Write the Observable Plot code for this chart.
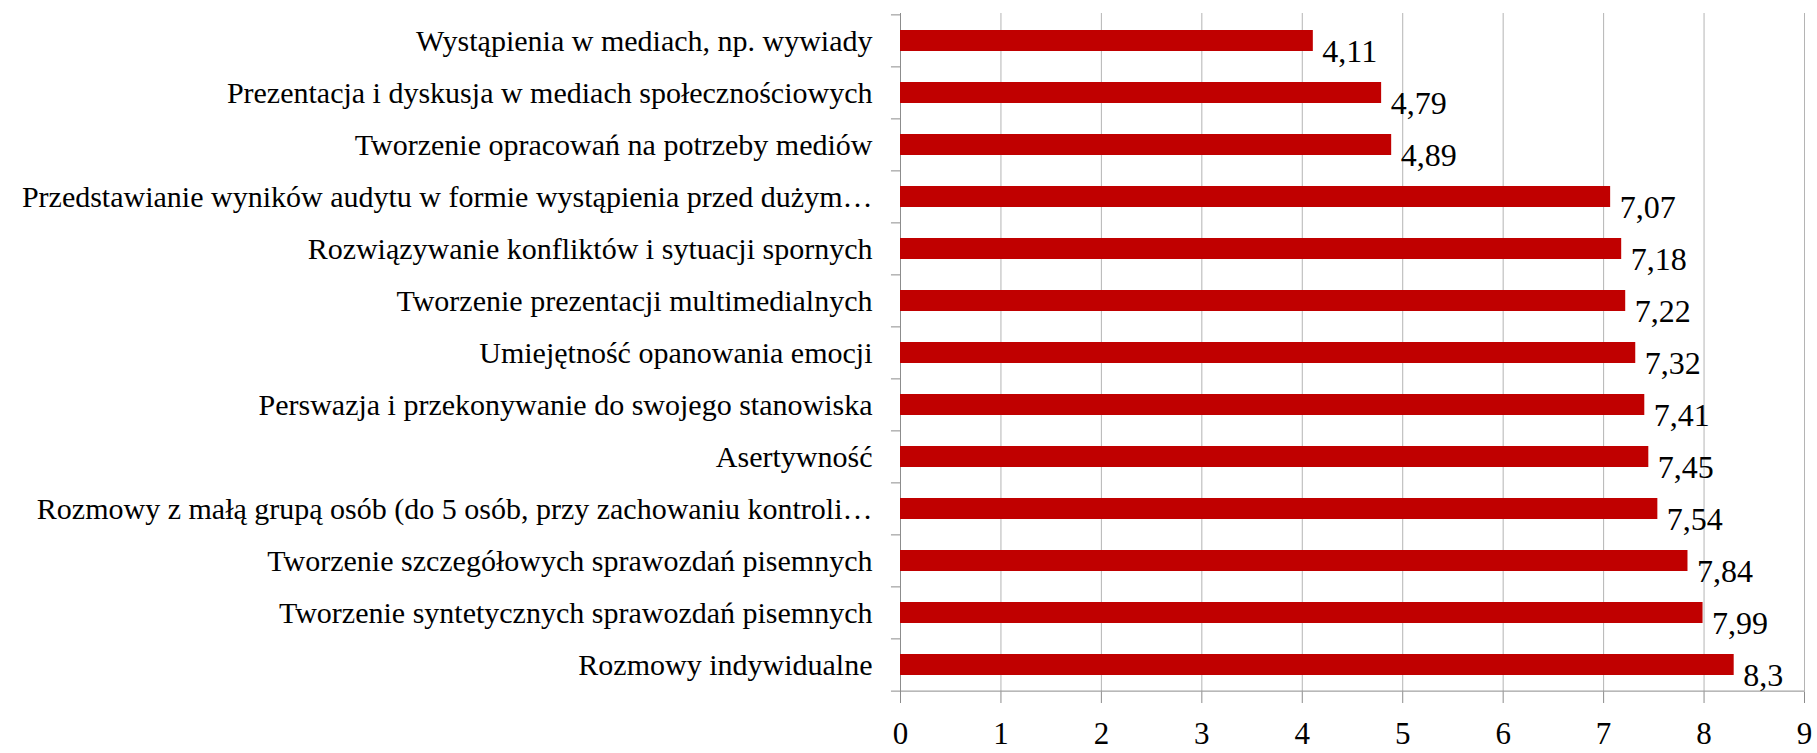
<!DOCTYPE html>
<html>
<head>
<meta charset="utf-8">
<script src="https://cdn.jsdelivr.net/npm/d3@7"></script>
<script src="https://cdn.jsdelivr.net/npm/@observablehq/plot@0.6"></script>
<style>
  html, body { margin: 0; padding: 0; background: #fff; }
  #chart svg { display: block; }
</style>
</head>
<body>
<div id="chart"></div>
<script>
const categories = [
  "Wystąpienia w mediach, np. wywiady",
  "Prezentacja i dyskusja w mediach społecznościowych",
  "Tworzenie opracowań na potrzeby mediów",
  "Przedstawianie wyników audytu w formie wystąpienia przed dużym…",
  "Rozwiązywanie konfliktów i sytuacji spornych",
  "Tworzenie prezentacji multimedialnych",
  "Umiejętność opanowania emocji",
  "Perswazja i przekonywanie do swojego stanowiska",
  "Asertywność",
  "Rozmowy z małą grupą osób (do 5 osób, przy zachowaniu kontroli…",
  "Tworzenie szczegółowych sprawozdań pisemnych",
  "Tworzenie syntetycznych sprawozdań pisemnych",
  "Rozmowy indywidualne"
];
const values = [4.11, 4.79, 4.89, 7.07, 7.18, 7.22, 7.32, 7.41, 7.45, 7.54, 7.84, 7.99, 8.3];
const xTicks = [0, 1, 2, 3, 4, 5, 6, 7, 8, 9];

const data = categories.map((c, i) => ({category: c, value: values[i]}));
const fmt = v => String(v).replace(".", ",");

const W = 1817, H = 753;
const marginTop = 13, marginBottom = 61, marginLeft = 900, marginRight = 13;
const step = (H - marginTop - marginBottom) / categories.length;
const FONT = "'Liberation Serif', 'Times New Roman', serif";

const chart = Plot.plot({
  width: W,
  height: H,
  marginTop, marginBottom, marginLeft, marginRight,
  style: {fontFamily: FONT, fontSize: "30px", color: "#000", background: "#fff"},
  x: {domain: [0, 9], ticks: xTicks},
  y: {domain: categories, paddingInner: 0.6, paddingOuter: 0.3, align: 0.5},
  marks: [
    Plot.gridX(xTicks.slice(1), {stroke: "#b4b4b4", strokeOpacity: 1, strokeWidth: 1}),
    Plot.ruleX([0], {stroke: "#8c8c8c", strokeWidth: 1}),
    Plot.ruleY(categories, {y: d => d, x1: -0.09, x2: 0, dy: -step / 2, stroke: "#8c8c8c", strokeWidth: 1}),
    Plot.ruleY([categories[categories.length - 1]], {x1: -0.09, x2: 9, dy: step / 2, stroke: "#8c8c8c", strokeWidth: 1}),
    Plot.barX(data, {x: "value", y: "category", fill: "#c00000"}),
    Plot.text(data, {x: "value", y: "category", text: d => fmt(d.value), textAnchor: "start", dx: 9, dy: 11, fontSize: 32, fill: "#000"}),
    Plot.axisY({tickSize: 0, tickPadding: 28, fontSize: 30, label: null, textAnchor: "end"}),
    Plot.axisX({ticks: xTicks, tickSize: 11, tickPadding: 18, stroke: "#8c8c8c", fontSize: 31, label: null, tickFormat: d => String(d)})
  ]
});
document.getElementById("chart").appendChild(chart);
</script>
</body>
</html>
